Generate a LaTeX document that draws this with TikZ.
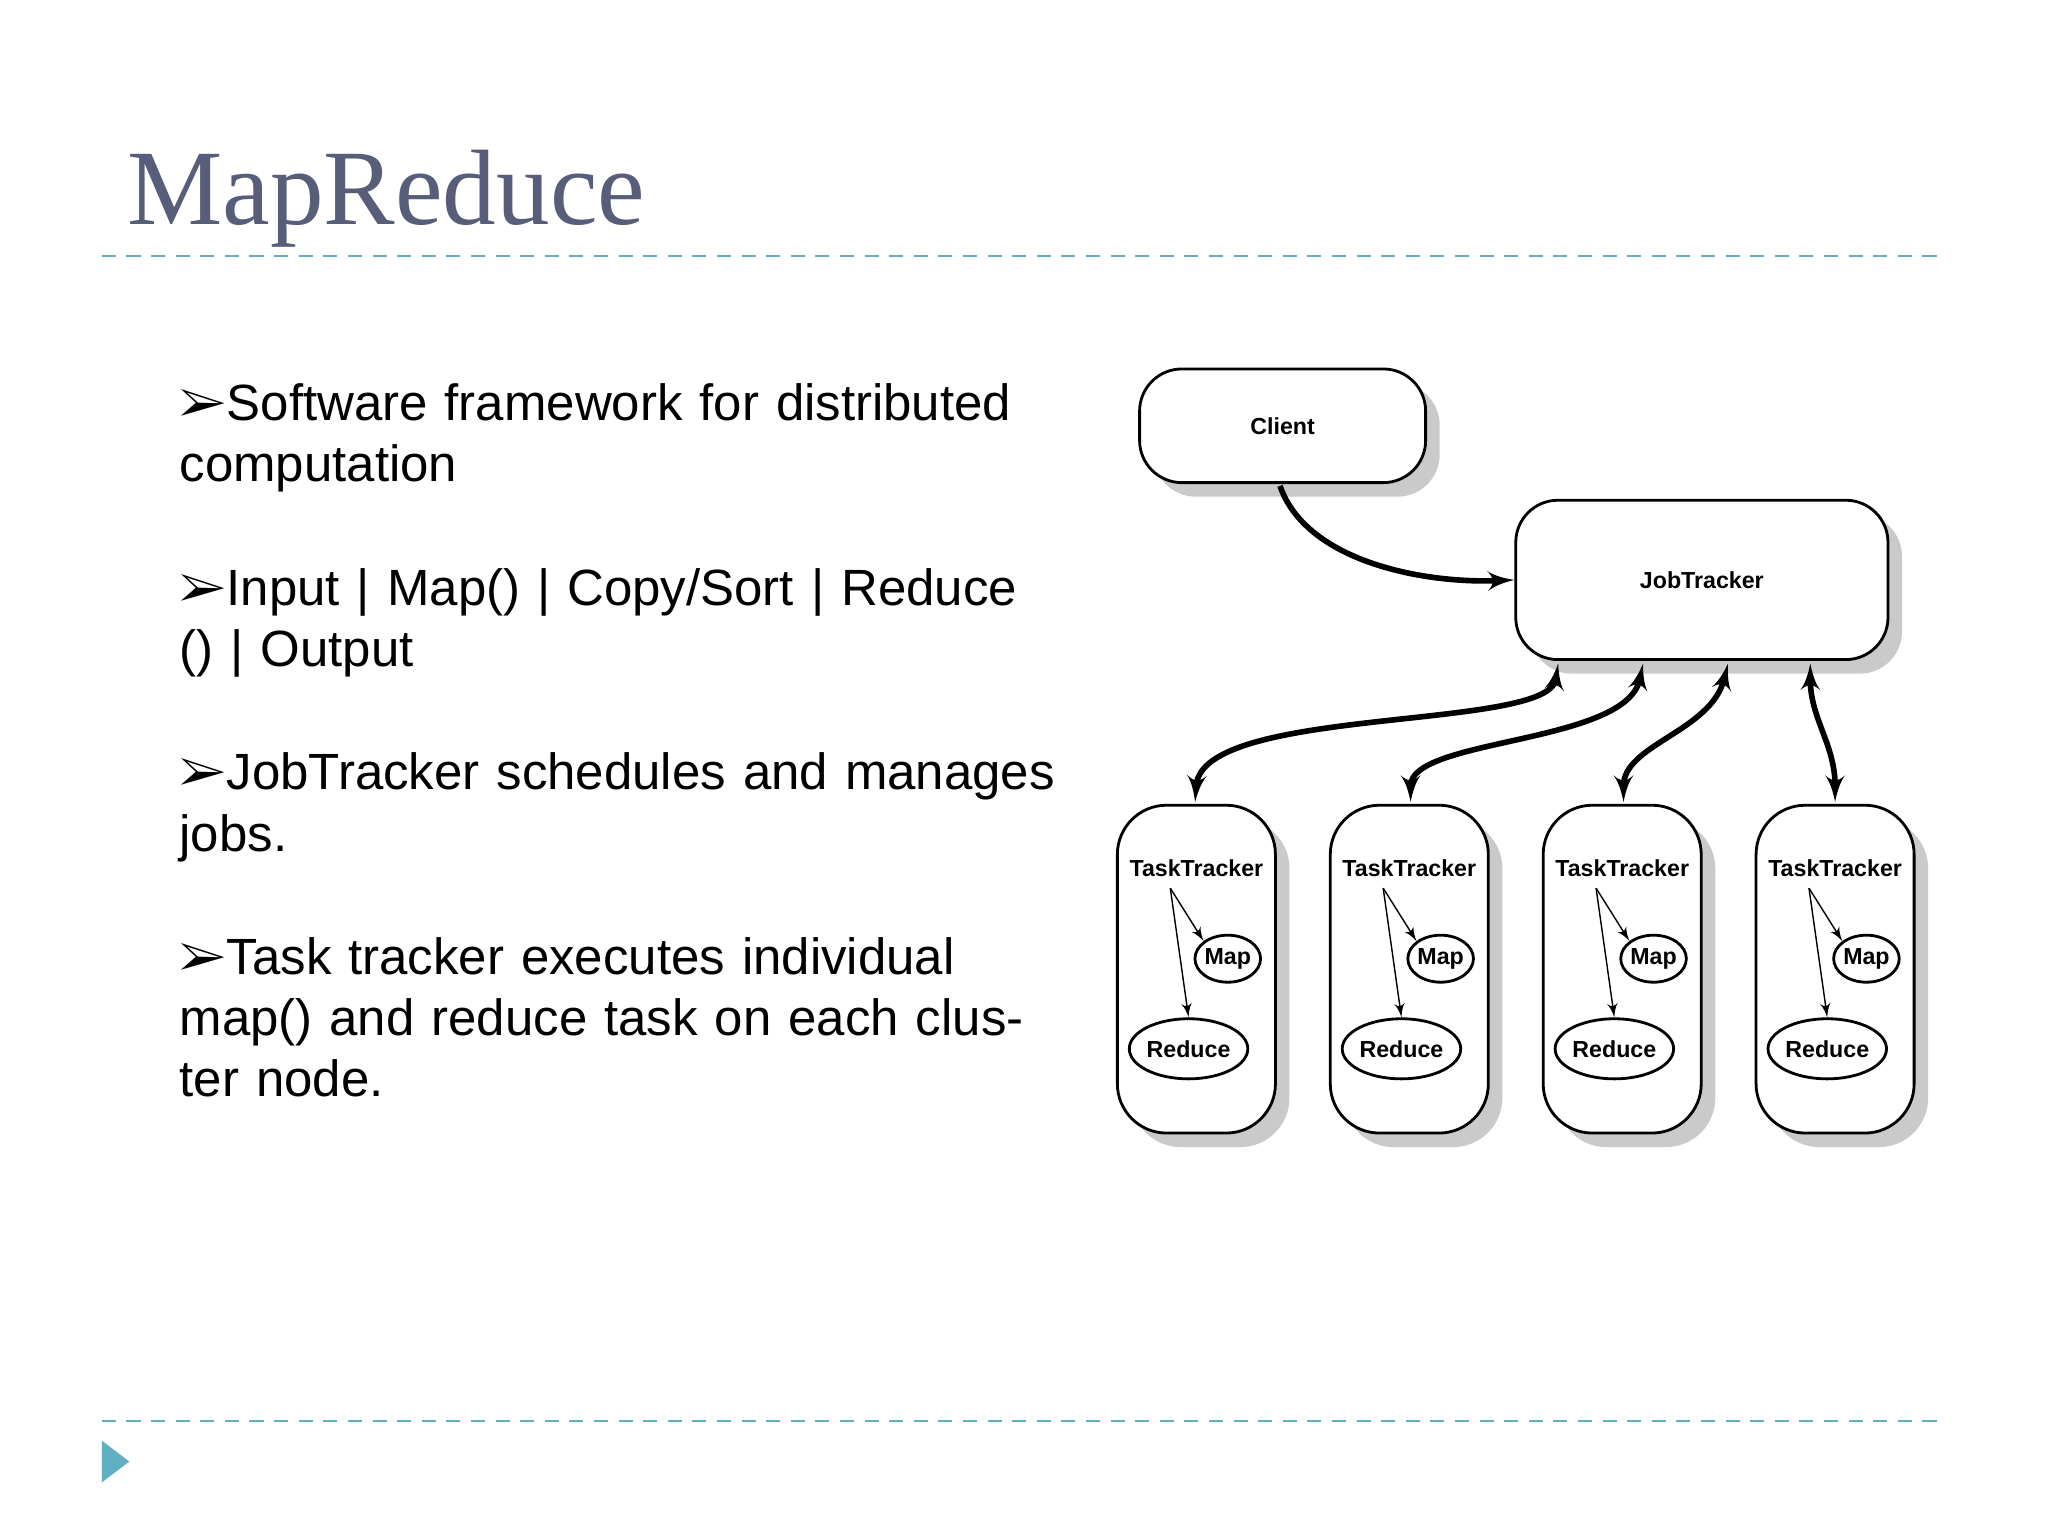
\documentclass[tikz,border=0pt]{standalone}
\usepackage{fontspec}
\setmainfont{Liberation Serif}
\setsansfont{Liberation Sans}
\usepackage{pifont}
\usepackage{tikz}
\usetikzlibrary{arrows,shadows,shapes.geometric}
\definecolor{titlegray}{RGB}{88,94,122}
\definecolor{dashteal}{RGB}{96,176,196}
\tikzset{
  box/.style = {draw, thick, rounded corners = 12pt, fill = white,
    drop shadow = {shadow xshift = 4pt, shadow yshift = -4pt, opacity = 0.35, fill = black!60}},
  lbl/.style = {font = \sffamily\bfseries\fontsize{6.6}{8}\selectfont},
  job/.style = {line width = 1.6pt, latex'-latex'},
  oval/.style = {draw, thick, ellipse, inner sep = 0pt, lbl},
  bul/.style = {anchor = north west, align = left, text width = 8.8cm,
    font = \sffamily\fontsize{14.5}{17.4}\selectfont}
}
\newcommand{\bl}{\ding{226}}
\begin{document}
\begin{tikzpicture}[x = 0.01306cm, y = -0.01306cm]
    \useasboundingbox (0, 0) rectangle (1568, 1176);

    %% title and rules
    \node[anchor = base west, text = titlegray, font = \fontsize{30.5}{34}\selectfont]
        (title) at (88, 172) {MapReduce};
    \draw[dashteal, dash pattern = on 4pt off 3pt] (78, 196) -- (1490, 196);
    \draw[dashteal, dash pattern = on 4pt off 3pt] (78, 1088) -- (1490, 1088);
    \fill[dashteal] (78, 1103) -- (99, 1119) -- (78, 1135) -- cycle;

    %% bullets
    \node[bul] (b1) at (128, 284) {\bl Software framework for distributed computation};
    \node[bul] (b2) at (128, 426) {\bl Input | Map() | Copy/Sort | Reduce () | Output};
    \node[bul] (b3) at (128, 567) {\bl JobTracker schedules and manages jobs.};
    \node[bul] (b4) at (128, 708) {\bl Task tracker executes individual map() and reduce task on each cluster node.};

    %% client and job tracker
    \node[box, lbl, minimum width = 219*0.01306cm, minimum height = 87*0.01306cm]
        (client) at (982, 326) {Client};
    \node[box, lbl, minimum width = 285*0.01306cm, minimum height = 122*0.01306cm]
        (jt) at (1303, 444) {JobTracker};
    \coordinate (cl) at (980, 372);
    \draw[line width = 1.6pt, -latex'] (cl) .. controls (1000, 430) and (1090, 447) .. (jt.west);

    %% task trackers
    \foreach \i/\x/\s/\d in {1/856/1193/915, 2/1019/1258/1080, 3/1182/1323/1243, 4/1345/1386/1405} {
        \node[box, minimum width = 121*0.01306cm, minimum height = 251*0.01306cm,
            rounded corners = 14pt] (tt\i) at (\x + 60, 742) {};
        \node[lbl] (tl\i) at (\x + 60, 665) {TaskTracker};
        \node[oval, minimum width = 48*0.01306cm, minimum height = 36*0.01306cm]
            (map\i) at (\x + 84, 734) {Map};
        \node[oval, minimum width = 82*0.01306cm, minimum height = 46*0.01306cm]
            (red\i) at (\x + 54, 803) {Reduce};
        \coordinate (src\i) at (\x + 40, 680);
        \draw[thin, -latex'] (src\i) -- (map\i.north west);
        \draw[thin, -latex'] (src\i) -- (red\i.north);
        \coordinate (up\i) at (\s, 508);
        \coordinate (dn\i) at (\d, 614);
    }
    \draw[job] (up1) .. controls (1185, 560) and (920, 540) .. (dn1);
    \draw[job] (up2) .. controls (1245, 570) and (1080, 565) .. (dn2);
    \draw[job] (up3) .. controls (1310, 560) and (1243, 570) .. (dn3);
    \draw[job] (up4) .. controls (1386, 550) and (1405, 570) .. (dn4);
\end{tikzpicture}
\end{document}
